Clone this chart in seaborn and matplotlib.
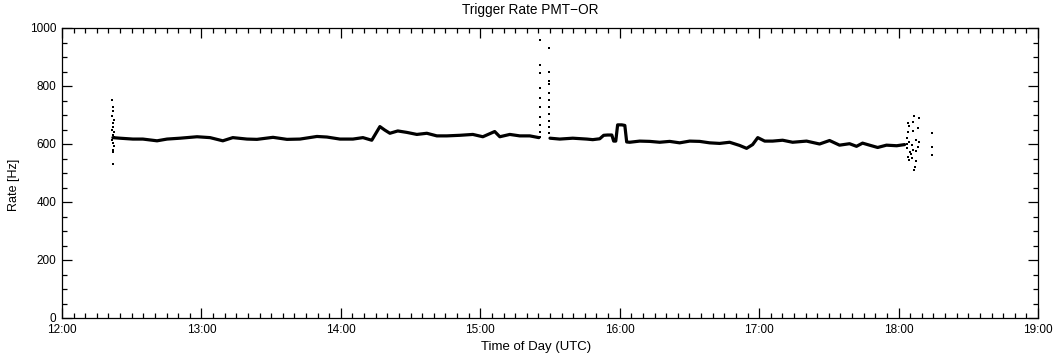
import matplotlib
matplotlib.use("Agg")
import matplotlib.pyplot as plt
from matplotlib.ticker import MultipleLocator, FuncFormatter
import seaborn as sns
import pandas as pd

# ---- data (minutes after 12:00 UTC, rate in Hz) ----
line_minutes = [21.9, 24.9, 30.5, 34.8, 40.9, 45.2, 50.8, 58.1, 63.7, 69.2, 73.5, 79.6,
                83.9, 90.8, 96.8, 102.4, 109.7, 114.0, 119.6, 125.2, 129.5, 133.3, 136.8,
                138.9, 141.1, 144.5, 148.4, 152.7, 157.0, 161.3, 165.6, 171.2, 176.8,
                181.1, 186.2, 188.4, 192.7, 197.0, 201.3, 205.2]
line_rate = [622, 620, 617, 617, 611, 617, 620, 625, 622, 611, 622, 617,
             616, 623, 616, 617, 626, 624, 617, 617, 622, 613, 660,
             648, 637, 645, 640, 633, 637, 628, 628, 630, 633,
             625, 643, 625, 633, 628, 628, 622]

line2_minutes = [210.0, 214.2, 219.8, 225.8, 228.4, 231.4, 233.1, 234.8, 236.6, 237.4,
                 238.3, 239.1, 240.9, 242.2, 243.0, 244.3, 248.6, 252.9, 257.2, 261.5,
                 265.8, 270.1, 274.4, 278.7, 283.0, 287.3, 291.6, 294.6, 297.2, 299.4,
                 302.4, 305.8, 310.1, 314.4, 320.4, 326.0, 330.3, 334.6, 338.9, 341.9,
                 344.5, 347.5, 351.0, 354.8, 359.2, 362.6]
line2_rate = [620, 617, 620, 617, 615, 618, 630, 631, 631, 610,
              610, 666, 666, 664, 607, 606, 610, 609, 606, 609,
              604, 610, 609, 604, 602, 606, 595, 585, 598, 622,
              610, 610, 613, 606, 610, 600, 612, 596, 601, 592,
              603, 596, 588, 596, 594, 598]

scatter_minutes = [21.6, 21.8, 22.1, 21.7, 22.3, 21.9, 22.0, 21.6, 22.4, 21.8, 22.2, 21.7,
                   22.0, 22.3, 21.9, 22.1, 21.8,
                   205.9, 205.9, 205.9, 205.9, 205.9, 205.9, 205.9, 205.9, 205.9, 205.9,
                   209.6, 209.6, 209.6, 209.6, 209.6, 209.6, 209.6, 209.6, 209.6, 209.6, 209.6,
                   366.7, 368.8, 363.9, 366.3, 364.6, 368.2, 366.4, 363.9, 363.5, 367.6,
                   364.6, 368.2, 365.8, 363.5, 366.1, 364.8, 367.6, 363.9, 365.8, 367.3,
                   364.3, 367.1, 366.8, 365.3, 363.5, 368.8,
                   374.5, 374.5, 374.5]
scatter_rate = [752, 727, 715, 697, 683, 671, 660, 648, 642, 631, 623, 614,
                602, 593, 579, 574, 531,
                959, 872, 844, 792, 757, 726, 692, 666, 643, 625,
                930, 849, 817, 807, 777, 752, 729, 703, 680, 660, 639,
                698, 691, 672, 675, 661, 656, 645, 640, 622, 614,
                608, 591, 597, 585, 579, 574, 576, 556, 551, 541,
                545, 522, 510, 564, 599, 608,
                639, 590, 562]

x_ticks = ["12:00", "13:00", "14:00", "15:00", "16:00", "17:00", "18:00", "19:00"]
y_ticks = [0, 200, 400, 600, 800, 1000]

title = "Trigger Rate PMT\u2212OR"
xlabel = "Time of Day (UTC)"
ylabel = "Rate [Hz]"

# ---- plotting ----
sns.set_theme(style="ticks")
plt.rcParams["font.family"] = ["Liberation Sans", "DejaVu Sans"]

df1 = pd.DataFrame({"t": line_minutes, "rate": line_rate})
df2 = pd.DataFrame({"t": line2_minutes, "rate": line2_rate})
dfs = pd.DataFrame({"t": scatter_minutes, "rate": scatter_rate})

fig = plt.figure(figsize=(10.6, 3.6), dpi=100)
ax = fig.add_axes([62 / 1060, 42 / 360, (1038 - 62) / 1060, (318 - 28) / 360])

sns.lineplot(data=df1, x="t", y="rate", ax=ax, color="black", linewidth=2.3, estimator=None, sort=False)
sns.lineplot(data=df2, x="t", y="rate", ax=ax, color="black", linewidth=2.3, estimator=None, sort=False)
sns.scatterplot(data=dfs, x="t", y="rate", ax=ax, color="black", s=3, linewidth=0, marker="s")

ax.set_xlim(0, 420)
ax.set_ylim(0, 1000)
ax.xaxis.set_major_locator(MultipleLocator(60))
ax.xaxis.set_minor_locator(MultipleLocator(5))
ax.xaxis.set_major_formatter(FuncFormatter(lambda v, p: x_ticks[int(round(v / 60))] if 0 <= round(v / 60) < len(x_ticks) else ""))
ax.set_yticks(y_ticks)
ax.yaxis.set_minor_locator(MultipleLocator(50))

ax.tick_params(which="both", direction="in", top=True, right=True, colors="black",
               labelsize=8.5, width=0.9)
ax.tick_params(which="major", length=7.5, pad=4)
ax.tick_params(which="minor", length=3.6)
for s in ax.spines.values():
    s.set_visible(True)
    s.set_linewidth(0.9)
    s.set_color("black")

fig.text(530 / 1060, 1 - 10 / 360, title, fontsize=9.8, color="black", ha="center", va="center")
ax.set_xlabel(xlabel, fontsize=9.5, labelpad=1, color="black")
ax.xaxis.set_label_coords((536 - 62) / (1038 - 62), -0.078)
ax.set_ylabel(ylabel, fontsize=9, color="black")
ax.yaxis.set_label_coords(-42 / 976, 0.46)

fig.savefig("out.png", dpi=100)
